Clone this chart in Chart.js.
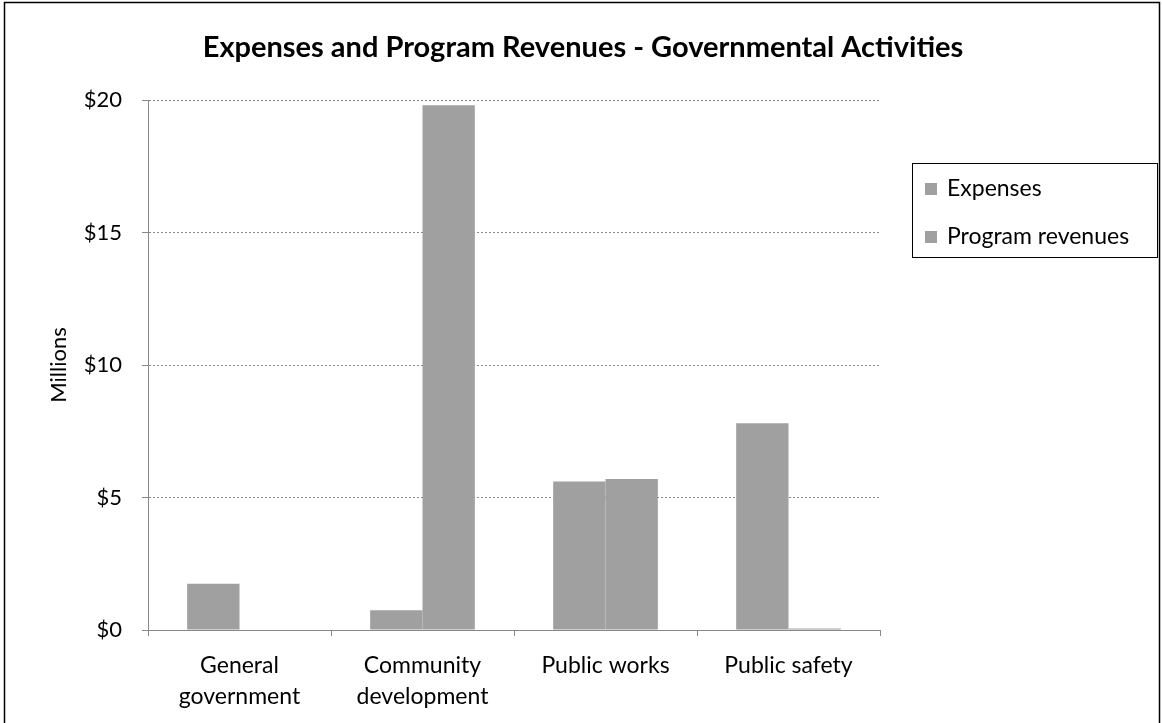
<!DOCTYPE html>
<html>
<head>
<meta charset="utf-8">
<script src="https://cdn.jsdelivr.net/npm/chart.js@4/dist/chart.umd.min.js"></script>
<style>
  body { margin: 0; background: #fff; }
  #wrap { position: relative; width: 1162px; height: 723px; }
</style>
</head>
<body>
<div id="wrap"><canvas id="chart" width="1162" height="723"></canvas></div>
<script>
// data (millions of dollars)
const categories = [["General", "government"], ["Community", "development"], "Public works", "Public safety"];
const expenses = [1.75, 0.75, 5.6, 7.8];
const programRevenues = [0, 19.8, 5.7, 0.06];
const yTicks = [0, 5, 10, 15, 20];
const chartTitle = 'Expenses and Program Revenues - Governmental Activities';

const barGray = '#a0a0a0';
const fontFamily = 'Lato, "Open Sans", sans-serif';

// outer frame, title and boxed legend drawn like the spreadsheet original
const framePlugin = {
	id: 'frame',
	afterDraw(chart) {
		const ctx = chart.ctx;
		ctx.save();
		ctx.strokeStyle = '#000';
		ctx.lineWidth = 1.5;
		ctx.strokeRect(4.5, 2.5, 1155, 740);

		ctx.fillStyle = '#000';
		ctx.font = 'bold 29px ' + fontFamily;
		ctx.textAlign = 'center';
		ctx.textBaseline = 'middle';
		ctx.fillText(chartTitle, 583, 48);

		// legend box
		const lx = 912, ly = 163, lw = 245, lh = 94;
		ctx.lineWidth = 1;
		ctx.strokeRect(lx + 0.5, ly + 0.5, lw, lh);
		ctx.font = '23px ' + fontFamily;
		ctx.textAlign = 'left';
		chart.data.datasets.forEach(function(ds, i) {
			let y = ly + 26 + i * 48;
			ctx.fillStyle = ds.backgroundColor;
			ctx.fillRect(lx + 13, y - 6, 12, 12);
			ctx.fillStyle = '#000';
			ctx.fillText(ds.label, lx + 35, y);
		});
		ctx.restore();
	}
};

new Chart(document.getElementById('chart'), {
	type: 'bar',
	data: {
		labels: categories,
		datasets: [
			{ label: 'Expenses', data: expenses, backgroundColor: barGray },
			{ label: 'Program revenues', data: programRevenues, backgroundColor: barGray }
		]
	},
	options: {
		responsive: false,
		animation: false,
		layout: { padding: { left: 46, right: 282, top: 100, bottom: 0 } },
		datasets: {
			bar: { categoryPercentage: 0.572, barPercentage: 1.0 }
		},
		plugins: {
			legend: { display: false },
			tooltip: { enabled: false },
			title: { display: false }
		},
		scales: {
			x: {
				grid: { drawOnChartArea: false, drawTicks: true, tickLength: 6, offset: true, color: '#888' },
				border: { color: '#888', dash: [2, 2] },
				ticks: { color: '#000', font: { family: fontFamily, size: 23, lineHeight: 1.35 }, padding: 14, maxRotation: 0 },
				afterFit: function(scale) { scale.height = 93; }
			},
			y: {
				min: 0,
				max: 20,
				afterBuildTicks: function(scale) { scale.ticks = yTicks.map(function(v) { return { value: v }; }); },
				grid: { color: '#888', tickLength: 6 },
				border: { color: '#888', dash: [2, 2] },
				ticks: {
					color: '#000',
					font: { family: fontFamily, size: 22 },
					padding: 20,
					callback: function(v) { return '$' + v; }
				},
				title: {
					display: true,
					text: 'Millions',
					color: '#000',
					font: { family: fontFamily, size: 22 },
					padding: 0
				},
				afterFit: function(scale) { scale.width = 102; }
			}
		}
	},
	plugins: [framePlugin]
});
</script>
</body>
</html>
